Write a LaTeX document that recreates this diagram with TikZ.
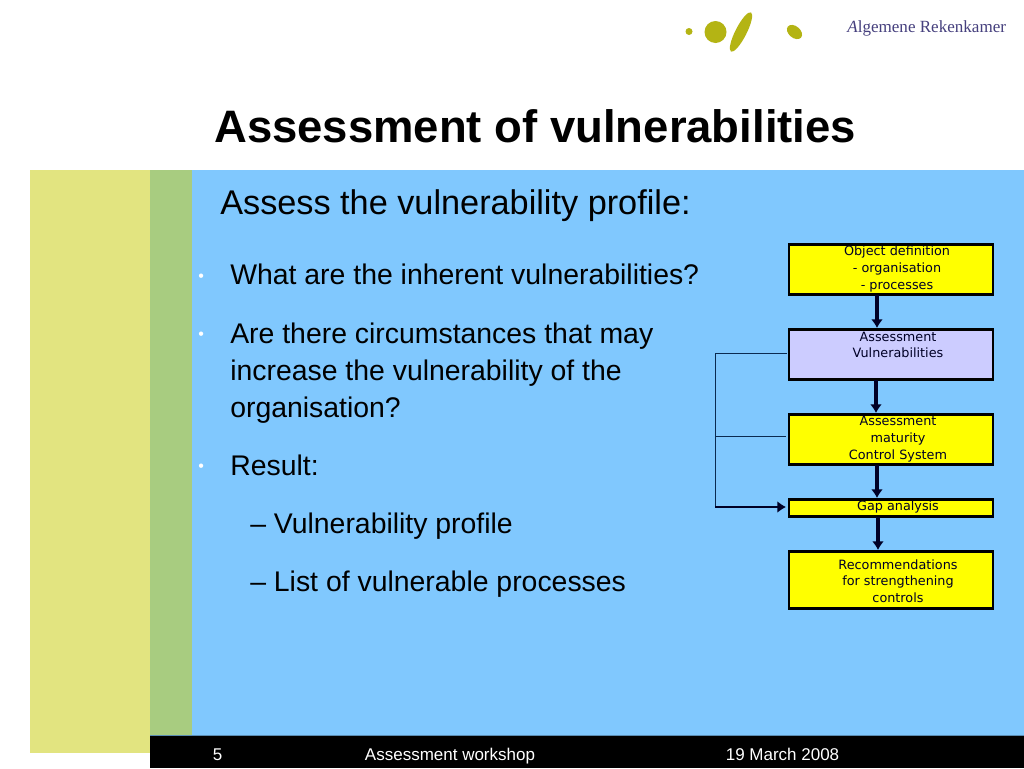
\documentclass[tikz,border=0pt]{standalone}
\usepackage{fontspec}
\setmainfont{Liberation Sans}
\newfontfamily\logofont{Liberation Serif}
\newfontfamily\boxfont{DejaVu Sans}
\usetikzlibrary{arrows.meta}
\definecolor{skyb}{HTML}{80C8FE}
\definecolor{pale}{HTML}{E2E480}
\definecolor{midg}{HTML}{A8CC80}
\definecolor{logog}{HTML}{B4B414}
\definecolor{logot}{HTML}{46407E}
\definecolor{lav}{HTML}{CCCCFF}
\definecolor{yel}{HTML}{FFFF00}
\definecolor{navyl}{HTML}{0A2A50}
\tikzset{
  x=0.75pt,y=-0.75pt,
  flowbox/.style={draw=black,line width=2.2pt,minimum width=153pt,inner sep=0pt},
  flowlabel/.style={anchor=north,inner sep=0pt,align=center,text=black!85!blue,font=\boxfont\fontsize{9.6pt}{12.6pt}\selectfont},
  body/.style={anchor=base west,inner sep=0pt,font=\fontsize{21.3pt}{24pt}\selectfont,text=black},
  bullet/.style={anchor=base west,inner sep=0pt,font=\fontsize{12pt}{14pt}\selectfont,text=white},
  foot/.style={anchor=base,inner sep=0pt,font=\fontsize{12.75pt}{14pt}\selectfont,text=white},
  flow/.style={-{Latex[length=6.5pt,width=9pt]},line width=2.3pt,color=black!85!blue},
  thin line/.style={line width=0.65pt,color=navyl}
}
\begin{document}
\begin{tikzpicture}
\useasboundingbox (0,0) rectangle (1024,768);
\fill[white] (0,0) rectangle (1024,768);
\fill[pale] (30,170) rectangle (150,753);
\fill[midg] (150,170) rectangle (192,735);
\fill[skyb] (192,170) rectangle (1024,735);
\fill[black] (150,735) rectangle (1024,768);
\draw[skyb!70!black,line width=0.6pt] (150,735) -- (1024,735);
% logo
\fill[logog] (689,31.5) circle (3.5);
\fill[logog] (715.5,32) circle (11);
\fill[logog,rotate around={63:(741,32)}] (741,32) ellipse (22 and 5.6);
\fill[logog,rotate around={-40:(794.5,32)}] (794.5,32) ellipse (8.6 and 5.8);
\node[anchor=base west,inner sep=0pt,text=logot,font=\logofont\fontsize{12.8pt}{14pt}\selectfont] (logotext) at (847,32) {\textit{A}lgemene Rekenkamer};
% texts
\node[anchor=base west,inner sep=0pt,font=\bfseries\fontsize{34.1pt}{38pt}\selectfont,text=black] (title) at (214,142) {Assessment of vulnerabilities};
\node[anchor=base west,inner sep=0pt,font=\fontsize{25.7pt}{28pt}\selectfont,text=black] (sub) at (220,214) {Assess the vulnerability profile:};
\node[bullet] (b1) at (198,281) {•};
\node[body] (t1) at (230,284) {What are the inherent vulnerabilities?};
\node[bullet] (b2) at (198,339) {•};
\node[body] (t2a) at (230,343) {Are there circumstances that may};
\node[body] (t2b) at (230,380) {increase the vulnerability of the};
\node[body] (t2c) at (230,417) {organisation?};
\node[bullet] (b3) at (198,471) {•};
\node[body] (t3) at (230,475) {Result:};
\node[body] (d1) at (250,533) {– Vulnerability profile};
\node[body] (d2) at (250,591) {– List of vulnerable processes};
% footer
\node[foot] (f1) at (217.5,760) {5};
\node[foot] (f2) at (450,760) {Assessment workshop};
\node[foot] (f3) at (782.5,760) {19 March 2008};
% flowchart
\node[flowbox,fill=yel,minimum height=37.5pt] (n1) at (891,269.5) {};
\node[flowbox,fill=lav,minimum height=37.5pt] (n2) at (891,354.5) {};
\node[flowbox,fill=yel,minimum height=37.5pt] (n3) at (891,439.5) {};
\node[flowbox,fill=yel,minimum height=12.5pt] (n4) at (891,508) {};
\node[flowbox,fill=yel,minimum height=43pt] (n5) at (891,580) {};
\node[flowlabel] (l1) at (897,246) {Object definition\\- organisation\\- processes};
\node[flowlabel] (l2) at (898,331.5) {Assessment\\Vulnerabilities};
\node[flowlabel] (l3) at (898,416) {Assessment\\maturity\\Control System};
\node[flowlabel] (l4) at (898,500.5) {Gap analysis};
\node[flowlabel] (l5) at (898,559) {Recommendations\\for strengthening\\controls};
\coordinate (c12a) at (877,295); \coordinate (c12b) at (877,328);
\coordinate (c23a) at (876,380); \coordinate (c23b) at (876,413);
\coordinate (c34a) at (877,465); \coordinate (c34b) at (877,498);
\coordinate (c45a) at (878,517); \coordinate (c45b) at (878,550);
\draw[flow] (c12a) -- (c12b);
\draw[flow] (c23a) -- (c23b);
\draw[flow] (c34a) -- (c34b);
\draw[flow] (c45a) -- (c45b);
\coordinate (tr) at (715,353);
\coordinate (mid) at (715,436.5);
\coordinate (br) at (715,507);
\coordinate (n2l) at (787,353);
\coordinate (n3l) at (786,436.5);
\coordinate (n4l) at (786,507);
\draw[thin line] (n2l) -- (tr) -- (br);
\draw[thin line] (mid) -- (n3l);
\draw[flow,line width=1.6pt] (br) -- (n4l);
\end{tikzpicture}
\end{document}
